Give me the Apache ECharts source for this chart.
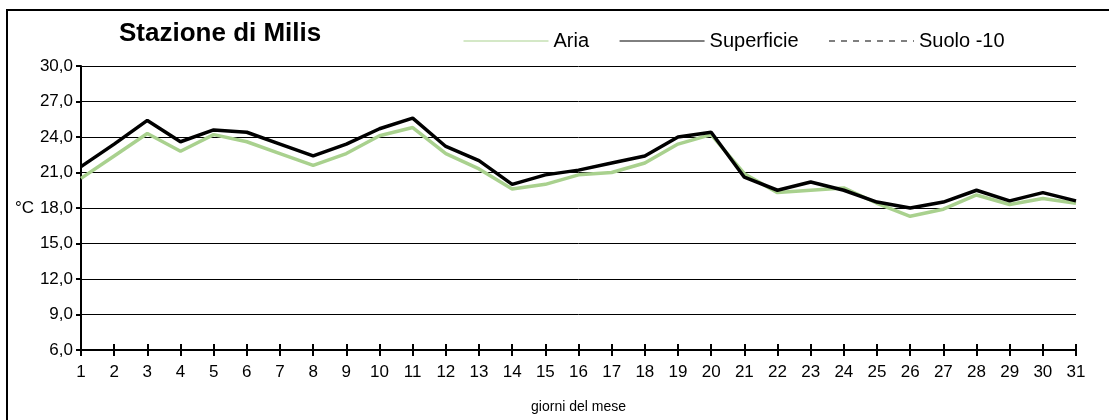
<!DOCTYPE html>
<html>
<head>
<meta charset="utf-8">
<title>Stazione di Milis</title>
<script src="https://cdn.jsdelivr.net/npm/echarts@6/dist/echarts.min.js"></script>
<style>
    html, body { margin: 0; padding: 0; background: #fff; }
    #main { width: 1109px; height: 420px; }
</style>
</head>
<body>
<div id="main"></div>
<script>
    // giorni del mese
    var days = ['1', '2', '3', '4', '5', '6', '7', '8', '9', '10', '11', '12', '13', '14', '15', '16',
                '17', '18', '19', '20', '21', '22', '23', '24', '25', '26', '27', '28', '29', '30', '31'];
    // temperature (°C)
    var aria = [20.5, 22.4, 24.3, 22.8, 24.2, 23.6, 22.6, 21.6, 22.6, 24.1, 24.8, 22.6, 21.3, 19.6, 20.0, 20.8,
                21.0, 21.8, 23.4, 24.2, 20.9, 19.3, 19.5, 19.7, 18.4, 17.3, 17.9, 19.1, 18.3, 18.8, 18.4];
    var superficie = [21.5, 23.4, 25.4, 23.6, 24.6, 24.4, 23.4, 22.4, 23.4, 24.7, 25.6, 23.2, 22.0, 20.0, 20.8, 21.2,
                      21.8, 22.4, 24.0, 24.4, 20.6, 19.5, 20.2, 19.5, 18.5, 18.0, 18.5, 19.5, 18.6, 19.3, 18.6];
    var suolo = []; // nessun dato nel grafico
    var seriesNames = ['Aria', 'Superficie', 'Suolo -10'];

    var font = 'Liberation Sans, Arial, sans-serif';
    var my_chart = echarts.init(document.getElementById('main'));

    var option = {
        animation: false,
        backgroundColor: '#ffffff',
        title: {
            text: 'Stazione di Milis',
            left: 114,
            top: 16,
            textStyle: { fontFamily: font, fontSize: 26, fontWeight: 'bold', color: '#000' }
        },
        legend: {
            left: 458,
            top: 26,
            itemWidth: 85,
            itemHeight: 14,
            itemGap: 30,
            data: seriesNames,
            itemStyle: { opacity: 0 },
            lineStyle: { width: 1 },
            textStyle: { fontFamily: font, fontSize: 20, color: '#000' }
        },
        graphic: [{
            type: 'rect',
            shape: { x: 7, y: 10, width: 1120, height: 430 },
            style: { fill: 'none', stroke: '#000', lineWidth: 2 },
            silent: true
        }],
        grid: { left: 81, right: 33, top: 66, bottom: 70 },
        xAxis: [{
            type: 'category',
            data: days,
            boundaryGap: false,
            name: 'giorni del mese',
            nameLocation: 'middle',
            nameGap: 50,
            nameTextStyle: { fontFamily: font, fontSize: 14, color: '#000' },
            axisLine: { lineStyle: { color: '#000', width: 2 } },
            axisTick: { length: 6, lineStyle: { color: '#000', width: 2 } },
            axisLabel: { fontFamily: font, fontSize: 17, color: '#000', margin: 14, interval: 0 },
            splitLine: { show: false }
        }, {
            // tacche sopra l'asse (croce)
            type: 'category',
            data: days,
            boundaryGap: false,
            position: 'bottom',
            axisLine: { show: false },
            axisTick: { inside: true, length: 6, lineStyle: { color: '#000', width: 2 } },
            axisLabel: { show: false },
            splitLine: { show: false }
        }],
        yAxis: {
            type: 'value',
            min: 6,
            max: 30,
            interval: 3,
            name: '°C',
            nameLocation: 'middle',
            nameRotate: 0,
            nameGap: 46,
            nameTextStyle: { fontFamily: font, fontSize: 17, color: '#000' },
            axisLine: { show: true, lineStyle: { color: '#000', width: 2 } },
            axisTick: { show: true, length: 5, lineStyle: { color: '#000', width: 2 } },
            axisLabel: {
                fontFamily: font, fontSize: 17, color: '#000', margin: 8,
                formatter: function (v) { return v.toFixed(1).replace('.', ','); }
            },
            splitLine: { lineStyle: { color: '#000', width: 1 } }
        },
        series: [{
            name: seriesNames[0],
            type: 'line',
            data: aria,
            symbol: 'none',
            lineStyle: { color: '#a9d18e', width: 3.5 },
            itemStyle: { color: '#a9d18e' },
            z: 2
        }, {
            name: seriesNames[1],
            type: 'line',
            data: superficie,
            symbol: 'none',
            lineStyle: { color: '#000', width: 3.5 },
            itemStyle: { color: '#000' },
            z: 3
        }, {
            name: seriesNames[2],
            type: 'line',
            data: suolo,
            symbol: 'none',
            lineStyle: { color: '#000', width: 1, type: [6, 6] },
            itemStyle: { color: '#000' }
        }]
    };

    my_chart.setOption(option);
</script>
</body>
</html>
